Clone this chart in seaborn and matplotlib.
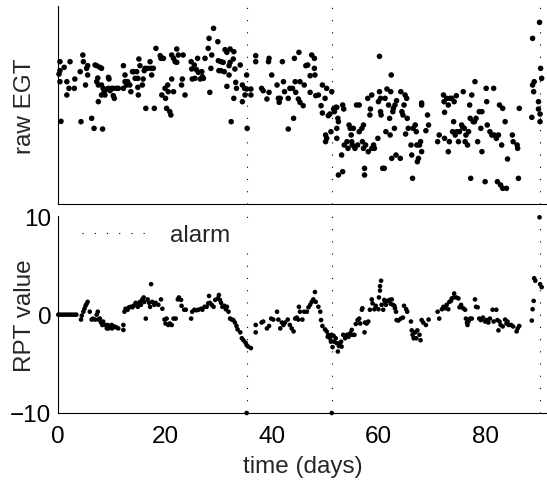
import matplotlib
matplotlib.use("Agg")
import matplotlib.pyplot as plt
import seaborn as sns
import pandas as pd
from matplotlib.lines import Line2D

# ---------------- data ----------------
# raw EGT (arbitrary units), top panel
egt_days_a = [0.31, 0.31, 0.13, 0.31, 1.1, 1.6, 0.5, 1.6, 2.2, 2.0,
              3.0, 3.1, 4.1, 4.25, 4.6, 4.7, 5.1, 5.3, 5.5, 5.5,
              6.25, 6.7, 6.9, 7.2, 7.4, 7.2, 7.5, 7.8, 8.1, 8.3,
              8.1, 8.4, 8.6, 8.1, 7.5, 8.75, 9.1, 9.4, 9.5, 9.4,
              9.7, 10.0, 10.3, 10.5, 10.3, 10.9, 11.25, 12.2, 12.2, 12.5,
              12.5, 12.8, 13.0, 13.4, 13.6, 13.9, 14.1, 14.4, 14.7, 14.9,
              15.0, 14.9, 15.1, 15.3, 15.75, 15.9, 16.1, 16.25, 16.4, 16.75,
              17.2, 17.4, 17.5, 17.8, 18.0, 18.3, 19.1, 19.25, 19.4, 19.7,
              20.0, 20.1, 20.3, 20.5, 20.6, 20.9, 21.1, 21.25, 21.6, 21.25,
              21.6, 21.9, 22.2, 22.2, 22.5, 23.1, 23.25, 23.4, 23.75, 24.9,
              25.0, 25.1, 25.5, 25.6, 25.9, 26.1, 26.25, 26.6, 26.9, 27.0,
              27.2, 27.5, 28.1, 28.25, 28.4, 28.6, 28.75, 29.1, 29.9, 30.0,
              30.1]
egt_vals_a = [42.7, 40.0, 39.0, 36.7, 41.0, 36.7, 24.8, 32.7, 42.7, 34.7,
              34.7, 37.5, 39.7, 24.7, 44.7, 42.7, 35.7, 40.7, 41.5, 38.7,
              25.7, 22.7, 41.7, 41.5, 37.8, 36.7, 35.7, 41.0, 40.7, 22.5,
              35.7, 34.7, 33.7, 32.7, 30.7, 32.7, 34.5, 38.0, 37.5, 34.7,
              34.0, 34.7, 32.5, 31.7, 34.7, 34.7, 34.7, 41.5, 34.7, 38.7,
              36.7, 35.7, 36.7, 35.7, 33.7, 39.7, 39.7, 37.7, 39.7, 37.7,
              32.7, 35.0, 43.5, 41.5, 35.7, 37.5, 40.0, 40.7, 28.7, 40.7,
              42.7, 40.7, 38.7, 40.7, 28.7, 46.7, 44.5, 43.7, 32.7, 43.7,
              34.7, 31.7, 28.7, 35.7, 33.7, 27.7, 26.7, 37.5, 33.7, 44.7,
              43.7, 42.7, 46.5, 42.5, 44.7, 35.7, 37.5, 44.7, 32.7, 42.7,
              40.5, 37.5, 41.7, 37.7, 40.3, 43.7, 39.5, 37.5, 39.7, 38.2,
              37.7, 43.7, 46.7, 49.7, 33.5, 40.7, 44.7, 52.7, 48.7, 43.0,
              40.0]

egt_days_b = [30.5, 30.5, 30.9, 31.1, 31.25, 31.6, 31.6, 32.0, 32.0, 32.2,
              32.2, 32.4, 32.8, 32.9, 32.9, 33.1, 33.25, 33.4, 34.1, 34.5,
              34.5, 34.9, 35.0, 35.3, 35.4, 35.3, 36.1, 36.1, 37.0, 37.0,
              38.1, 38.4, 39.1, 39.4, 39.5, 39.5, 40.0, 41.0, 41.25, 41.4,
              41.6, 42.0, 42.2, 42.4, 43.1, 43.1, 43.4, 43.9, 44.1, 44.25,
              44.4, 44.5, 45.0, 45.1, 45.3, 45.3, 45.9, 46.1, 46.4, 46.75,
              47.2, 47.2, 47.5, 48.0, 48.0, 48.1, 48.25, 48.75, 49.25, 49.5,
              49.5, 50.0, 50.3, 50.6, 50.9, 51.25, 51.6, 51.75, 52.0, 52.2,
              52.4, 52.5, 50.1, 50.3, 50.1, 51.1, 52.2, 52.2, 52.5, 53.1,
              53.3, 53.3, 53.5, 53.6, 54.1, 54.3, 54.5, 54.7, 54.9, 55.0,
              55.1, 55.3, 55.6, 55.9, 56.1, 56.4, 56.4, 56.9, 57.0, 57.2,
              57.2, 57.4, 57.4, 57.6, 58.0, 58.1, 58.4, 58.5, 58.75, 58.75,
              59.1, 59.25, 59.9, 60.0, 60.2, 60.2, 60.4, 60.4, 60.5, 60.8]
egt_vals_b = [42.7, 40.0, 42.5, 39.7, 46.3, 45.5, 35.3, 41.5, 38.7, 46.5,
              42.5, 24.7, 43.5, 45.7, 31.7, 40.5, 36.5, 34.7, 41.7, 35.7,
              30.7, 34.7, 32.7, 38.7, 22.7, 34.5, 34.5, 32.7, 44.5, 42.7,
              34.7, 34.0, 31.5, 42.7, 43.7, 33.5, 38.7, 35.7, 31.7, 30.5,
              31.7, 42.7, 36.7, 33.7, 31.7, 22.5, 34.7, 34.7, 25.7, 43.7,
              36.7, 33.5, 31.5, 45.5, 36.7, 30.5, 29.5, 35.7, 41.5, 41.7,
              38.5, 33.5, 44.7, 43.7, 40.7, 38.7, 32.5, 32.7, 29.5, 35.7,
              27.3, 31.7, 34.7, 26.5, 27.0, 33.7, 28.5, 27.7, 29.0, 29.0,
              25.7, 24.7, 20.7, 19.7, 18.7, 21.7, 22.7, 19.7, 8.7, 14.7,
              9.7, 29.7, 28.5, 17.7, 18.7, 16.7, 23.7, 22.7, 20.7, 18.7,
              17.7, 22.7, 16.7, 29.7, 17.7, 29.7, 21.7, 22.7, 18.7, 16.7,
              23.7, 10.7, 8.7, 17.7, 31.7, 15.7, 26.7, 28.5, 32.7, 16.7,
              17.7, 16.7, 19.7, 30.7, 44.3, 33.7, 31.7, 27.7, 26.7, 10.7]

egt_days_c = [61.1, 61.25, 61.4, 61.6, 61.9, 62.1, 62.2, 62.3, 62.4, 62.5,
              62.7, 62.8, 63.0, 63.1, 63.3, 63.4, 64.1, 64.2, 64.4, 64.6,
              64.8, 65.0, 65.1, 65.3, 65.4, 65.6, 66.1, 66.25, 66.4, 66.5,
              66.9, 67.1, 67.2, 67.3, 67.5, 67.7, 67.9, 68.1, 68.1, 68.1,
              68.9, 69.2, 69.4, 71.1, 71.4, 72.2, 72.3, 72.4, 72.4, 72.8,
              73.1, 73.1, 73.3, 73.4, 73.75, 73.9, 74.1, 74.2, 74.4, 74.6,
              74.7, 75.0, 75.2, 75.6, 75.8, 75.9, 76.1, 76.25, 76.4, 76.7,
              76.9, 77.1, 77.2, 77.3, 77.5, 77.75, 78.0, 78.1, 78.3, 78.6,
              78.9, 79.2, 79.4, 79.4, 80.0, 80.2, 80.3, 80.4, 80.9, 81.25,
              81.6, 81.7, 82.1, 82.3, 82.5, 82.7, 82.9, 83.1, 83.3, 83.3,
              83.75, 84.0, 84.2, 85.1, 85.25, 86.0, 86.1, 86.25, 86.4, 88.75,
              88.9, 88.9, 89.1, 89.2, 90.0, 90.0, 90.2, 90.3, 90.3, 90.4,
              90.6]
egt_vals_c = [10.7, 31.7, 21.7, 34.5, 29.7, 25.7, 20.7, 33.7, 38.7, 13.7,
              27.7, 28.7, 22.7, 29.7, 14.7, 31.0, 13.7, 33.7, 27.7, 26.7,
              29.7, 32.7, 21.0, 31.7, 25.7, 22.7, 17.7, 14.7, 7.7, 22.7,
              23.7, 21.7, 17.7, 12.7, 13.7, 17.7, 18.7, 29.7, 15.7, 30.3,
              22.0, 26.7, 23.7, 18.7, 20.7, 32.7, 30.7, 27.5, 19.7, 31.7,
              15.7, 29.7, 18.7, 31.7, 31.7, 21.7, 24.7, 30.7, 20.7, 32.5,
              21.7, 18.7, 21.7, 23.7, 23.0, 33.7, 22.7, 18.7, 20.7, 17.7,
              21.7, 29.7, 25.7, 7.7, 32.7, 24.7, 24.7, 36.7, 25.7, 18.7,
              27.7, 22.7, 15.7, 27.7, 6.7, 34.7, 30.7, 23.7, 21.7, 20.7,
              34.7, 20.7, 19.7, 6.7, 20.7, 29.7, 5.7, 17.7, 28.7, 4.7,
              24.7, 4.7, 13.5, 20.7, 18.7, 17.7, 16.7, 7.7, 28.7, 26.0,
              49.7, 35.7, 33.7, 36.7, 30.7, 28.5, 54.5, 27.0, 24.7, 40.7,
              37.7]

# RPT value, bottom panel
rpt_days_a = [0.0, 0.375, 0.75, 1.125, 1.5, 1.875, 2.25, 2.625, 3.0, 3.375,
              4.25, 4.4, 4.7, 4.9, 5.1, 5.3, 5.5, 5.9, 6.25, 6.5,
              6.9, 7.2, 7.4, 7.5, 7.8, 8.0, 8.25, 8.4, 8.75, 9.1,
              9.25, 9.4, 9.7, 10.0, 10.1, 10.5, 10.9, 11.25, 12.2, 12.2,
              12.4, 12.6, 13.0, 13.25, 13.6, 13.9, 14.1, 14.4, 14.5, 14.9,
              15.0, 15.3, 15.5, 15.75, 16.0, 16.1, 16.4, 16.75, 17.0, 17.2,
              17.4, 17.6, 18.0, 18.25, 18.75, 19.25, 19.5, 19.9, 20.1, 20.3,
              20.6, 20.9, 21.25, 21.6, 22.0, 22.4, 22.6, 23.0, 23.1, 23.6,
              23.9, 24.9, 25.1, 25.5, 25.9, 26.25, 26.75, 27.0, 27.4, 27.8,
              28.1, 28.25, 28.4, 28.75, 29.1, 29.4, 29.9, 30.1]
rpt_vals_a = [0.0, 0.0, 0.0, 0.0, 0.0, 0.0, 0.0, 0.0, 0.0, 0.0,
              -0.5, -0.1, 0.3, 0.6, 0.9, 1.1, 1.3, 0.3, -0.5, -0.4,
              -0.5, 0.0, 0.3, -0.5, -0.4, -0.8, -1.05, -0.7, -1.05, -1.4,
              -1.05, -1.4, -1.2, -1.05, -1.4, -1.2, -1.3, -1.4, -1.05, -1.55,
              0.3, 0.6, 0.5, 0.75, 0.8, 0.75, 0.9, 1.0, 1.2, 0.8,
              1.1, 1.3, 1.0, 1.55, 1.75, 1.3, -0.4, 1.55, 1.2, 0.8,
              3.1, 1.3, 1.0, 1.2, 1.0, 1.55, 0.6, -0.5, -0.9, -0.4,
              -1.05, -0.9, -1.05, -0.4, -0.4, 1.55, 1.75, 1.5, 0.9, 0.5,
              0.5, -0.4, 0.3, 0.5, 0.45, 0.5, 0.6, 0.5, 0.8, 0.8,
              1.15, 1.9, 1.2, 1.0, 0.8, 1.5, 1.65, 2.0]

rpt_days_b = [30.3, 30.5, 30.75, 31.1, 31.4, 31.6, 31.9, 32.2, 32.5, 32.8,
              33.1, 33.4, 33.6, 34.1, 34.4, 34.7, 35.1, 35.3, 35.6, 36.1,
              37.0, 37.0, 38.1, 38.4, 39.1, 39.5, 39.9, 40.3, 41.0, 41.25,
              41.6, 41.9, 42.2, 42.5, 43.0, 43.4, 43.75, 44.1, 44.4, 44.7,
              45.0, 45.1, 45.3, 45.75, 46.1, 46.6, 46.9, 47.2, 47.5, 47.8,
              48.1, 48.25, 48.75, 49.1, 49.25, 49.5, 50.0, 50.3, 50.5, 50.6,
              50.9, 51.1, 51.25, 51.4, 51.6, 51.75, 52.0, 52.2, 52.4, 52.6,
              52.8, 53.0, 53.1, 53.4, 53.75, 54.1, 54.4, 54.7, 55.0, 55.1,
              55.5, 55.75, 56.1, 56.4, 56.6, 56.9, 57.0, 57.4, 57.5, 57.8,
              58.1, 58.4, 58.75, 58.9, 59.25, 59.5, 60.0, 60.1, 60.3, 60.3,
              60.5, 60.6, 60.9]
rpt_vals_b = [1.5, 1.2, 0.8, 0.9, 0.55, 0.8, 0.3, -0.4, -0.5, -0.55,
              -0.8, -1.15, -1.5, -1.8, -2.4, -2.6, -2.85, -3.1, -3.25, -3.4,
              -1.05, -1.8, -0.8, -0.7, -1.4, -1.15, -0.4, -0.5, 0.3, -0.5,
              -1.4, -0.8, -1.05, -0.8, -0.5, -1.05, -1.4, -1.7, -0.4, -0.3,
              -0.5, 0.8, 0.3, -0.5, 0.3, 0.3, 0.75, 1.0, 1.3, 1.55,
              2.3, 1.3, 0.8, 0.3, -0.55, -1.15, -1.5, -1.7, -2.25, -2.05,
              -2.4, -2.75, -2.05, -3.3, -2.15, -2.75, -2.4, -2.9, -3.75, -3.2,
              -2.9, -2.75, -3.25, -2.05, -2.4, -2.05, -2.25, -1.9, -1.55, -2.05,
              -2.05, -0.95, -0.55, -0.4, -0.9, 0.5, 0.65, -1.8, -0.8, -0.9,
              -0.7, 0.5, 1.55, 1.15, 0.55, 0.9, 0.55, 1.75, 2.45, 2.9,
              3.45, 1.0, 0.5]

rpt_days_c = [61.1, 61.25, 61.4, 61.7, 62.1, 62.3, 62.5, 62.7, 63.0, 63.1,
              63.3, 63.4, 63.75, 64.2, 64.6, 64.8, 65.2, 65.4, 66.1, 66.25,
              66.4, 66.6, 66.9, 67.1, 67.3, 67.7, 67.9, 68.1, 68.4, 68.9,
              69.4, 71.1, 71.4, 71.9, 72.2, 72.5, 72.8, 73.1, 73.3, 73.6,
              73.75, 74.1, 74.2, 74.6, 75.0, 75.2, 75.5, 75.9, 76.25, 76.4,
              76.6, 76.7, 76.9, 77.2, 77.5, 78.1, 78.3, 78.6, 78.9, 79.2,
              79.6, 80.0, 80.3, 80.6, 80.9, 81.4, 81.6, 82.1, 82.3, 82.5,
              82.7, 82.9, 83.3, 83.75, 84.0, 84.2, 84.4, 84.9, 85.25, 85.9,
              86.1, 86.4, 88.75, 88.9, 89.1, 89.2, 89.4, 90.2, 90.3, 90.6]
rpt_vals_c = [1.5, 1.3, 1.0, 1.4, 1.5, 1.1, 1.55, 1.0, 0.9, 0.65,
              0.3, -0.55, -0.6, -0.4, -0.3, 0.9, 0.55, 0.3, -0.7, -1.6,
              -2.05, -2.4, -1.8, -2.4, -1.6, -2.05, -2.6, -0.55, -0.8, -1.05,
              -0.5, 0.3, -0.4, 0.55, 0.8, 0.65, 1.0, 0.55, 1.3, 1.4,
              1.65, 1.75, 2.15, 1.75, 1.65, 0.75, 1.0, 0.65, 0.5, -0.4,
              -0.8, -1.05, -0.7, -0.4, -0.4, 1.55, 0.8, 0.75, -0.4, -0.55,
              -0.3, -0.7, -0.55, -0.8, -0.4, 0.5, -0.7, 0.5, -0.55, -1.6,
              -0.7, -1.05, -1.2, -0.5, -0.9, -0.7, -1.05, -1.05, -1.2, -1.7,
              -1.4, -1.15, -0.6, 0.55, 1.4, 3.7, 3.45, 9.9, 3.1, 2.8]

alarm_days = [35.3, 51.25, 90.2]
alarm_marks_days = [35.3, 51.25]
alarm_marks_vals = [-10.0, -10.0]

x_ticks = [0, 20, 40, 60, 80]
rpt_ticks = [-10, 0, 10]

# ---------------- styling ----------------
sns.set_style("white")
plt.rcParams['font.family'] = ['Liberation Sans', 'DejaVu Sans']
plt.rcParams['axes.unicode_minus'] = True
FS = 17.5

egt_df = pd.DataFrame({"day": egt_days_a + egt_days_b + egt_days_c,
                       "egt": egt_vals_a + egt_vals_b + egt_vals_c})
rpt_df = pd.DataFrame({"day": rpt_days_a + rpt_days_b + rpt_days_c,
                       "rpt": rpt_vals_a + rpt_vals_b + rpt_vals_c})
mark_df = pd.DataFrame({"day": alarm_marks_days, "rpt": alarm_marks_vals})

fig = plt.figure(figsize=(5.47, 4.81), dpi=100)
ax1 = fig.add_axes([0.1066, 0.5738, 0.8934, 0.4123])
ax2 = fig.add_axes([0.1066, 0.1393, 0.8934, 0.4089])

dot = (0, (1, 10))
for d in alarm_days:
    ax1.axvline(d, color='black', linestyle=dot, linewidth=0.8, zorder=1)
    ax2.axvline(d, color='black', linestyle=dot, linewidth=0.8, zorder=1)

sns.scatterplot(data=egt_df, x="day", y="egt", ax=ax1, color='black',
                s=16, edgecolor='none', linewidth=0, zorder=3, clip_on=False)
sns.scatterplot(data=rpt_df, x="day", y="rpt", ax=ax2, color='black',
                s=11, edgecolor='none', linewidth=0, zorder=3, clip_on=False)
sns.scatterplot(data=mark_df, x="day", y="rpt", ax=ax2, color='black',
                s=11, edgecolor='none', linewidth=0, zorder=4, clip_on=False)

for ax in (ax1, ax2):
    ax.set_xlim(0, 91.6)
    ax.set_xticks(x_ticks)
    for side in ("top", "right"):
        ax.spines[side].set_visible(False)
    for side in ("left", "bottom"):
        ax.spines[side].set_color('black')
        ax.spines[side].set_linewidth(0.8)
    ax.tick_params(direction='in', length=4, width=0.8, colors='black',
                   labelsize=FS, top=False, right=False)
    ax.tick_params(axis='x', pad=9)
    ax.tick_params(axis='y', pad=5)

ax1.set_ylim(0, 59.5)
ax1.set_yticks([19.8, 59.5])
ax1.set_yticklabels([])
ax1.set_xticklabels([])
ax1.set_xlabel("")
ax1.set_ylabel("raw EGT", fontsize=FS)
ax1.yaxis.set_label_coords(-0.046, 0.5)

ax2.set_ylim(-10, 10)
ax2.set_yticks(rpt_ticks)
ax2.set_xlabel("time (days)", fontsize=FS)
ax2.set_ylabel("RPT value", fontsize=FS)
ax2.yaxis.set_label_coords(-0.046, 0.5)
ax2.xaxis.set_label_coords(0.5, -0.215)

handle = Line2D([], [], color='black', linestyle=dot, linewidth=0.8)
leg = ax2.legend([handle], ["alarm   "], loc='upper left',
                 bbox_to_anchor=(0.039, 0.985), borderaxespad=0,
                 fontsize=FS, frameon=True, fancybox=False,
                 facecolor='white', edgecolor='none', framealpha=1,
                 handlelength=2.9, handletextpad=0.7, borderpad=0.2)
leg.set_zorder(5)

fig.savefig("out.png", dpi=100)
